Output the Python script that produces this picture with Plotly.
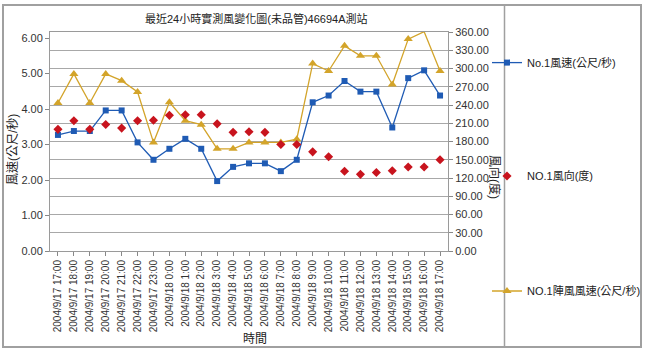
import plotly.graph_objects as go

categories = [
    "2004/9/17 17:00", "2004/9/17 18:00", "2004/9/17 19:00", "2004/9/17 20:00",
    "2004/9/17 21:00", "2004/9/17 22:00", "2004/9/17 23:00", "2004/9/18 0:00",
    "2004/9/18 1:00", "2004/9/18 2:00", "2004/9/18 3:00", "2004/9/18 4:00",
    "2004/9/18 5:00", "2004/9/18 6:00", "2004/9/18 7:00", "2004/9/18 8:00",
    "2004/9/18 9:00", "2004/9/18 10:00", "2004/9/18 11:00", "2004/9/18 12:00",
    "2004/9/18 13:00", "2004/9/18 14:00", "2004/9/18 15:00", "2004/9/18 16:00",
    "2004/9/18 17:00",
]
wind_speed = [3.27, 3.38, 3.38, 3.96, 3.96, 3.06, 2.57, 2.88, 3.16, 2.88, 1.97, 2.37, 2.47,
              2.47, 2.25, 2.57, 4.19, 4.38, 4.79, 4.49, 4.49, 3.48, 4.87, 5.09, 4.38]
wind_dir = [200, 214, 200, 208, 202, 214, 215, 223, 224, 224, 209, 195, 196,
            195, 175, 175, 163, 155, 131, 126, 129, 132, 138, 138, 150]
gust_speed = [4.17, 4.99, 4.17, 4.99, 4.80, 4.48, 3.06, 4.19, 3.67, 3.56, 2.88, 2.88, 3.06,
              3.06, 3.06, 3.15, 5.28, 5.07, 5.78, 5.50, 5.50, 4.69, 5.97, 6.18, 5.07]
left_ticks = [0, 1, 2, 3, 4, 5, 6]

FONT = "Liberation Sans, Arial, Noto Sans CJK TC, sans-serif"
BLUE = "#1F5BB4"
RED = "#C8141E"
GOLD = "#D3A42A"

W, H = 645, 352
L, R, T, B = 50, 448, 32, 251


def px(xp):
    return (xp - L) / (R - L)


def py(yp):
    return (B - yp) / (B - T)


fig = go.Figure()
fig.add_trace(go.Scatter(
    x=categories, y=wind_speed, name="No.1風速(公尺/秒)", mode="lines+markers",
    line=dict(color=BLUE, width=1.3), marker=dict(symbol="square", size=6, color=BLUE),
    cliponaxis=False, legend="legend"))
fig.add_trace(go.Scatter(
    x=categories, y=wind_dir, name="NO.1風向(度)", mode="markers", yaxis="y2",
    marker=dict(symbol="diamond", size=7, color=RED),
    cliponaxis=False, legend="legend2"))
fig.add_trace(go.Scatter(
    x=categories, y=gust_speed, name="NO.1陣風風速(公尺/秒)", mode="lines+markers",
    line=dict(color=GOLD, width=1.3), marker=dict(symbol="triangle-up", size=8, color=GOLD),
    cliponaxis=False, legend="legend3"))

legend_common = dict(xref="paper", yref="paper", xanchor="left", yanchor="middle",
                     bgcolor="rgba(0,0,0,0)", font=dict(family=FONT, size=11, color="#222"),
                     itemwidth=30)

fig.update_layout(
    width=W, height=H,
    margin=dict(l=L, r=W - R, t=T, b=H - B, pad=0, autoexpand=False),
    paper_bgcolor="white", plot_bgcolor="white",
    font=dict(family=FONT, size=11, color="#333"),
    xaxis=dict(type="category", range=[-0.5, len(categories) - 0.5], tickangle=-90,
               tickfont=dict(size=10, color="#333"), ticks="outside", ticklen=4,
               tickcolor="#888", showline=True, linecolor="#9A9A9A", linewidth=1,
               mirror=True, showgrid=False),
    yaxis=dict(range=[0, 6.17], tickvals=left_ticks, tickformat=".2f", ticks="outside",
               ticklen=4, tickcolor="#888", showline=True, linecolor="#9A9A9A",
               showgrid=False, zeroline=False, tickfont=dict(size=11, color="#333")),
    yaxis2=dict(range=[0, 360], dtick=30, tickformat=".2f", overlaying="y", side="right",
                ticks="outside", ticklen=4, tickcolor="#888", showline=True,
                linecolor="#9A9A9A", showgrid=True, gridcolor="#A8A8A8", gridwidth=1,
                zeroline=False, tickfont=dict(size=11, color="#333")),
    legend=dict(x=px(487), y=py(62.6), **legend_common),
    legend2=dict(x=px(487), y=py(176), **legend_common),
    legend3=dict(x=px(487), y=py(291), **legend_common),
    showlegend=True,
)

ann = dict(xref="paper", yref="paper", showarrow=False, xanchor="center", yanchor="middle",
           font=dict(family=FONT, size=12, color="#222"))
fig.add_annotation(text="最近24小時實測風變化圖(未品管)46694A測站", x=px(256), y=py(18.6),
                   **{**ann, "font": dict(family=FONT, size=11, color="#222")})
fig.add_annotation(text="風速(公尺/秒)", x=px(12), y=py(150), textangle=-90, **ann)
fig.add_annotation(text="風向(度)", x=px(495), y=py(177), textangle=90, **ann)
fig.add_annotation(text="時間", x=px(255), y=py(339), **ann)

# outer frame and legend divider
fig.add_shape(type="rect", xref="paper", yref="paper", x0=px(3), x1=px(641), y0=py(347),
              y1=py(5), line=dict(color="#A0A0A0", width=2), layer="below")
fig.add_shape(type="line", xref="paper", yref="paper", x0=px(504.5), x1=px(504.5),
              y0=py(347), y1=py(5), line=dict(color="#A0A0A0", width=1.5), layer="below")

fig.write_html("out.html")
